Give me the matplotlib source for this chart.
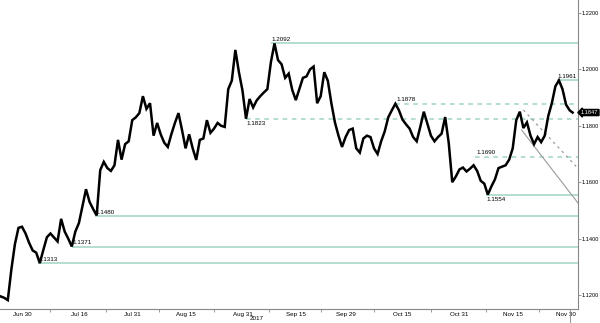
import numpy as np
import pandas as pd
import matplotlib
matplotlib.use("Agg")
import matplotlib.pyplot as plt
import matplotlib.dates as mdates
from matplotlib.transforms import blended_transform_factory

plt.rcParams['font.family'] = ['Liberation Sans', 'DejaVu Sans']

# EUR/USD, daily readings from 24 Jun to 1 Dec 2017
closes = [
    1.1195, 1.1190, 1.1182, 1.1290, 1.1380, 1.1438, 1.1442, 1.1418, 1.1385, 1.1358,
    1.1350, 1.1313, 1.1360, 1.1405, 1.1418, 1.1404, 1.1390, 1.1470, 1.1425, 1.1400,
    1.1372, 1.1425, 1.1455, 1.1515, 1.1575, 1.1530, 1.1505, 1.1482, 1.1643, 1.1672,
    1.1650, 1.1640, 1.1660, 1.1750, 1.1680, 1.1735, 1.1745, 1.1820, 1.1830, 1.1845,
    1.1905, 1.1860, 1.1880, 1.1765, 1.1810, 1.1770, 1.1740, 1.1725, 1.1770, 1.1810,
    1.1845, 1.1785, 1.1720, 1.1770, 1.1720, 1.1679, 1.1750, 1.1755, 1.1820, 1.1775,
    1.1790, 1.1810, 1.1800, 1.1796, 1.1930, 1.1960, 1.2069, 1.1990, 1.1925, 1.1825,
    1.1895, 1.1865, 1.1890, 1.1905, 1.1918, 1.1930, 1.2026, 1.2092, 1.2033, 1.2018,
    1.1970, 1.1985, 1.1927, 1.1891, 1.1930, 1.1970, 1.1975, 1.2000, 1.2010, 1.1880,
    1.1905, 1.1990, 1.1960, 1.1880, 1.1812, 1.1765, 1.1725, 1.1760, 1.1785, 1.1790,
    1.1720, 1.1705, 1.1755, 1.1765, 1.1760, 1.1720, 1.1700, 1.1745, 1.1780, 1.1830,
    1.1855, 1.1878, 1.1855, 1.1822, 1.1805, 1.1790, 1.1760, 1.1745, 1.1796, 1.1850,
    1.1808, 1.1765, 1.1745, 1.1760, 1.1772, 1.1831, 1.1740, 1.1600, 1.1620, 1.1645,
    1.1652, 1.1638, 1.1648, 1.1660, 1.1640, 1.1605, 1.1595, 1.1556, 1.1585, 1.1610,
    1.1650, 1.1655, 1.1660, 1.1680, 1.1720, 1.1820, 1.1850, 1.1792, 1.1812, 1.1765,
    1.1735, 1.1760, 1.1742, 1.1765, 1.1835, 1.1880, 1.1940, 1.1961, 1.1930, 1.1875,
    1.1855,
]
dates = pd.date_range('2017-06-24', periods=len(closes), freq='D')
last_price = 1.1847
last_date = pd.Timestamp('2017-12-01 20:00')

# support / resistance levels: value, start date, dashed?
levels = [1.2092, 1.1961, 1.1878, 1.1823, 1.1690, 1.1554, 1.1480, 1.1371, 1.1313]
level_starts = ['2017-09-08', '2017-11-27 12:00', '2017-10-13', '2017-09-01', '2017-11-04 12:00',
                '2017-11-07 12:00', '2017-07-20 12:00', '2017-07-14', '2017-07-04 12:00']
level_dashed = [False, False, True, True, True, False, False, False, False]
label_below = [False, False, False, True, False, True, False, False, False]

# trend lines (start, end)
trend_solid = (('2017-11-17 12:00', 1.1785), ('2017-12-03 12:00', 1.1524))
trend_dotted = (('2017-11-18', 1.1856), ('2017-12-02 20:00', 1.1656))

tick_dates = ['2017-06-30', '2017-07-16', '2017-07-31', '2017-08-15', '2017-08-31', '2017-09-15',
              '2017-09-29', '2017-10-15', '2017-10-31', '2017-11-15', '2017-11-30']
tick_labels = ['Jun 30', 'Jul 16', 'Jul 31', 'Aug 15', 'Aug 31', 'Sep 15',
               'Sep 29', 'Oct 15', 'Oct 31', 'Nov 15', 'Nov 30']
y_ticks = [1.12, 1.14, 1.16, 1.18, 1.20, 1.22]

level_color = '#9fd4c3'
axis_color = '#888888'
fs = 4.5

fig = plt.figure(figsize=(6, 3.23), dpi=100)
ax = fig.add_axes((0, 1 - 309 / 323, 578 / 600, 309 / 323))

x0 = pd.Timestamp('2017-06-30') - pd.Timedelta(days=6.19)
x1 = pd.Timestamp('2017-06-30') + pd.Timedelta(days=156.36)
ax.set_xlim(x0, x1)
ax.set_ylim(1.11504, 1.2246)

for lv, st, dash, below in zip(levels, level_starts, level_dashed, label_below):
    st = pd.Timestamp(st)
    ax.hlines(lv, st, x1, colors=level_color, lw=1.1,
              linestyles=(0, (3, 3)) if dash else 'solid', zorder=1)
    ax.annotate(f'{lv:.4f}', (st, lv), xytext=(0.5, -1.2 if below else 1.0),
                textcoords='offset points', fontsize=fs,
                va='top' if below else 'bottom', ha='left', zorder=4)

(sa, pa), (sb, pb) = trend_solid
ax.plot([pd.Timestamp(sa), pd.Timestamp(sb)], [pa, pb], color='#9a9a9a', lw=0.8, zorder=2)
(sa, pa), (sb, pb) = trend_dotted
ax.plot([pd.Timestamp(sa), pd.Timestamp(sb)], [pa, pb], color='#9a9a9a', lw=0.9,
        ls=(0, (2, 3)), zorder=2)

px = list(dates) + [last_date]
py = closes + [last_price]
ax.plot(px, py, color='black', lw=1.8, solid_joinstyle='miter', zorder=3)

# axes styling
for s in ['left', 'top']:
    ax.spines[s].set_visible(False)
ax.spines['right'].set_color(axis_color)
ax.spines['bottom'].set_color(axis_color)
ax.yaxis.tick_right()
ax.set_yticks(y_ticks)
ax.set_yticklabels([f'{v:.4f}' for v in y_ticks])
ax.tick_params(axis='y', length=2, width=0.6, color=axis_color, labelsize=4.1, pad=0.6)

td = pd.to_datetime(tick_dates)
ax.set_xticks(td)
ax.set_xticklabels(tick_labels)
mids = td[:-1] + (td[1:] - td[:-1]) / 2
ax.set_xticks(mids, minor=True)
ax.tick_params(axis='x', which='major', length=0, labelsize=fs, pad=2.5)
ax.tick_params(axis='x', which='minor', length=2, width=0.6, color=axis_color)

trans = blended_transform_factory(ax.transData, ax.transAxes)
ax.text(pd.Timestamp('2017-09-04'), -0.022, '2017', transform=trans, fontsize=fs,
        ha='center', va='top')
ax.plot([last_date - pd.Timedelta(hours=14)] * 2, [0, -0.05], transform=trans,
        color=axis_color, lw=0.6, clip_on=False)

# last price tag
ax.annotate(f'{last_price:.4f}', (1.0, last_price), xycoords=('axes fraction', 'data'),
            xytext=(2.2, 0), textcoords='offset points', fontsize=4.1, color='white',
            va='center', ha='left', annotation_clip=False,
            bbox=dict(boxstyle='larrow,pad=0.1', fc='black', ec='black'))

fig.savefig('out.png', dpi=100)
